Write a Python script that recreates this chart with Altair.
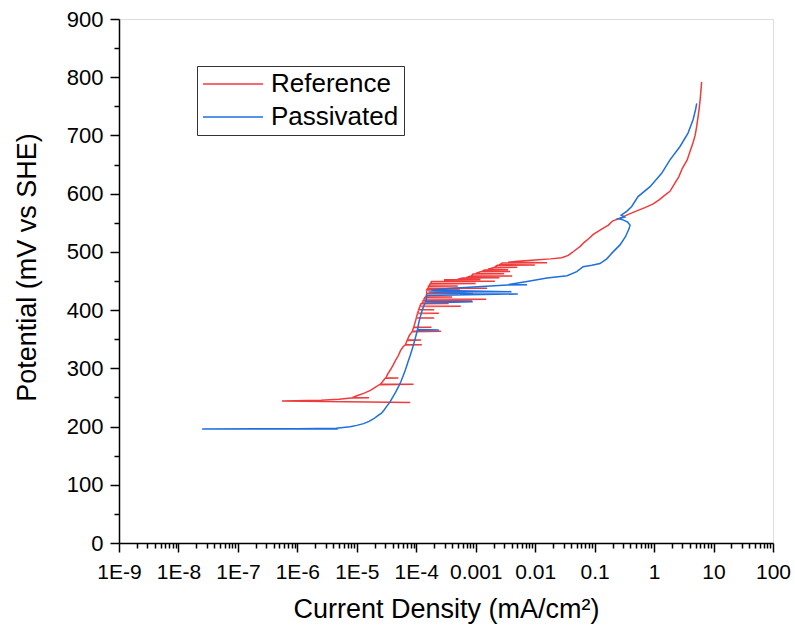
import altair as alt
import pandas as pd

# ---- data (current density in mA/cm^2, potential in mV vs SHE) ----
ref_current = [
    7.9e-5, 5.5e-7, 2.5e-6, 5.0e-6, 8.0e-6, 1.6e-5, 8.5e-6, 1.0e-5, 1.3e-5, 1.7e-5,
    2.0e-5, 2.4e-5, 9.0e-5, 2.5e-5, 2.7e-5, 3.0e-5, 5.0e-5, 3.1e-5, 3.3e-5, 3.7e-5,
    4.1e-5, 4.5e-5, 5.0e-5, 5.4e-5, 6.0e-5, 6.5e-5, 1.24e-4, 6.6e-5, 7.0e-5, 1.2e-4,
    7.1e-5, 7.6e-5, 8.5e-5, 2.6e-4, 8.6e-5, 9.0e-5, 1.8e-4, 9.1e-5, 9.5e-5, 1.0e-4,
    2.0e-4, 1.0e-4, 1.05e-4, 2.4e-4, 1.05e-4, 1.1e-4, 2.0e-4, 1.1e-4, 1.15e-4, 5.6e-4,
    1.15e-4, 1.2e-4, 3.5e-4, 1.25e-4, 1.3e-4, 8.7e-4, 1.3e-4, 1.35e-4, 1.5e-3, 1.35e-4,
    1.4e-4, 4.0e-4, 1.45e-4, 1.5e-4, 9.0e-4, 1.5e-4, 1.5e-4, 5.4e-4, 1.5e-4, 1.55e-4,
    1.55e-3, 1.6e-4, 1.6e-4, 5.0e-4, 1.65e-4, 1.7e-4, 1.0e-3, 1.75e-4, 1.8e-4, 2.1e-3,
    3.0e-4, 3.0e-4, 1.2e-3, 5.0e-4, 6.0e-4, 2.5e-3, 7.0e-4, 8.0e-4, 4.1e-3, 8.5e-4,
    9.0e-4, 3.0e-3, 1.0e-3, 1.2e-3, 3.8e-3, 1.3e-3, 1.4e-3, 3.5e-3, 1.6e-3, 2.0e-3,
    5.0e-3, 2.1e-3, 2.3e-3, 9.9e-3, 2.5e-3, 2.8e-3, 0.0158, 3.5e-3, 5.0e-3, 0.01,
    0.018, 0.028, 0.036, 0.042, 0.05, 0.058, 0.066, 0.08, 0.095, 0.125,
    0.17, 0.2, 0.27, 0.36, 0.5, 0.7, 0.95, 1.2, 1.5, 1.85,
    2.2, 2.6, 3.0, 3.6, 4.1, 4.5, 4.9, 5.2, 5.7, 6.0,
    6.3,
]
ref_potential = [
    241.5, 244, 245, 247, 249, 249.5, 250, 253, 257, 262,
    267, 272, 272.5, 273, 277, 283, 283.5, 284, 290, 298,
    306, 314, 322, 330, 337, 340, 340.5, 341, 348, 348.5,
    349, 356, 363, 363.5, 364, 370, 370.5, 371, 378, 386,
    386.5, 387, 394, 394.5, 395, 400, 400.5, 401, 406, 406.5,
    407, 411, 411.5, 412, 415, 415.5, 416, 418, 418.5, 419,
    422, 422.5, 423, 428, 428.5, 429, 434, 434.5, 435, 437,
    437.5, 438, 441, 441.5, 442, 445, 445.5, 446, 449, 449.5,
    450, 452, 452.5, 453, 455, 455.5, 456, 458, 458.5, 459,
    462, 462.5, 463, 466, 466.5, 467, 469, 469.5, 470, 473,
    473.5, 474, 477, 477.5, 478, 481, 481.5, 482, 484, 486,
    488, 490, 494, 499, 505, 510, 516, 523, 530, 538,
    546, 553, 558, 564, 570, 576, 582, 589, 597, 604,
    617, 629, 644, 658, 675, 687, 700, 715, 744, 765,
    792,
]

pas_current = [
    4.8e-6, 2.5e-8, 1.0e-6, 4.5e-6, 7.7e-6, 1.0e-5, 1.3e-5, 1.6e-5, 1.9e-5, 2.2e-5,
    2.6e-5, 2.9e-5, 3.2e-5, 3.6e-5, 4.0e-5, 4.5e-5, 5.0e-5, 5.5e-5, 6.0e-5, 6.6e-5,
    7.2e-5, 7.9e-5, 8.6e-5, 9.3e-5, 1.0e-4, 1.04e-4, 2.4e-4, 1.05e-4, 1.1e-4, 1.18e-4,
    1.26e-4, 1.35e-4, 1.4e-4, 8.9e-4, 1.45e-4, 1.5e-4, 5.1e-3, 8.0e-4, 1.6e-4, 4.0e-3,
    1.8e-4, 3.5e-4, 6.6e-4, 1.5e-3, 3.4e-3, 7.3e-3, 3.6e-3, 7.3e-3, 0.0158, 0.0344,
    0.05, 0.064, 0.09, 0.123, 0.16, 0.204, 0.267, 0.33, 0.38, 0.394,
    0.36, 0.3, 0.25, 0.32, 0.28, 0.35, 0.42, 0.537, 0.855, 1.34,
    1.85, 2.73, 3.72, 4.52, 5.0, 5.21,
]
pas_potential = [
    196, 195.8, 196.3, 197, 199.5, 202, 205, 209, 213, 218,
    223, 229, 235, 242, 250, 259, 268, 277, 287, 298,
    310, 322, 334, 346, 358, 365.5, 366, 366.5, 378, 390,
    400, 408, 412, 414.5, 415, 425, 427.7, 428, 431, 431.7,
    434, 437, 439, 441, 443, 443.5, 444, 449, 455, 459,
    466, 474.6, 477, 480, 488, 500, 512, 526, 540, 546,
    551, 555, 557, 560, 563, 570, 578, 595, 612, 635,
    658, 681, 704, 727, 745, 755,
]

series_names = ["Reference", "Passivated"]
series_colors = ["#EE3B3B", "#1F6FDE"]

x_major = [1e-9, 1e-8, 1e-7, 1e-6, 1e-5, 1e-4, 1e-3, 1e-2, 1e-1, 1, 10, 100]
x_ticks = []
for m in x_major[:-1]:
    for k in range(1, 10):
        x_ticks.append(m * k)
x_ticks.append(100)
y_ticks = list(range(0, 901, 50))

rows = []
for i, (c, p) in enumerate(zip(ref_current, ref_potential)):
    rows.append({"series": "Reference", "current": c, "potential": p, "idx": i})
for i, (c, p) in enumerate(zip(pas_current, pas_potential)):
    rows.append({"series": "Passivated", "current": c, "potential": p, "idx": i})
df = pd.DataFrame(rows)

FONT = "Liberation Sans"

is_decade = "abs(log(datum.value)/LN10 - round(log(datum.value)/LN10)) < 1e-6"
x_label_expr = (
    f"({is_decade}) ? (datum.value >= 0.0009 ? format(datum.value, '') : "
    "'1E-' + format(-round(log(datum.value)/LN10), 'd')) : ''"
)

x_axis = alt.Axis(
    values=x_ticks,
    labelExpr=x_label_expr,
    tickSize={"condition": {"test": is_decade, "value": 9}, "value": 5},
    labelPadding=9,
    labelFontSize=21,
    labelFont=FONT,
    labelColor="black",
    labelOverlap=False,
    labelFlush=False,
    title="Current Density (mA/cm²)",
    titleFont=FONT,
    titleFontSize=27,
    titleFontWeight="normal",
    titleColor="black",
    titleBaseline="alphabetic",
    titleY=74,
    grid=False,
    domainColor="black",
    domainWidth=1.5,
    tickColor="black",
    tickWidth=1.5,
)

y_axis = alt.Axis(
    values=y_ticks,
    labelExpr="datum.value % 100 == 0 ? datum.label : ''",
    tickSize={"condition": {"test": "datum.value % 100 == 0", "value": 9}, "value": 5},
    labelPadding=7,
    labelFontSize=22,
    labelFont=FONT,
    labelColor="black",
    labelOverlap=False,
    labelFlush=False,
    title="Potential (mV vs SHE)",
    titleFont=FONT,
    titleFontSize=27,
    titleFontWeight="normal",
    titleColor="black",
    titleBaseline="alphabetic",
    titleX=-84,
    titleY=248,
    grid=False,
    domainColor="black",
    domainWidth=1.5,
    tickColor="black",
    tickWidth=1.5,
)

chart = (
    alt.Chart(df)
    .mark_line(strokeWidth=1.5, clip=True)
    .encode(
        x=alt.X("current:Q", scale=alt.Scale(type="log", domain=[1e-9, 100], nice=False), axis=x_axis),
        y=alt.Y("potential:Q", scale=alt.Scale(domain=[0, 900], nice=False, zero=False), axis=y_axis),
        color=alt.Color(
            "series:N",
            scale=alt.Scale(domain=series_names, range=series_colors),
            legend=alt.Legend(
                orient="none",
                legendX=78,
                legendY=47,
                title=None,
                symbolType="M-1,0H4",
                symbolSize=576,
                symbolStrokeWidth=1.3,
                symbolFillColor="transparent",
                labelFontSize=26,
                labelFont=FONT,
                labelColor="black",
                labelOffset=43,
                rowPadding=7,
                padding=5,
                strokeColor="#333333",
                fillColor="white",
            ),
        ),
        order=alt.Order("idx:Q"),
        detail="series:N",
    )
    .properties(
        width=654,
        height=524,
        autosize=alt.AutoSizeParams(type="none"),
        padding={"left": 119, "top": 19, "right": 22, "bottom": 88},
    )
    .configure_view(stroke=None)
    .configure(background="white")
)

chart.save("out.html", embed_options={"renderer": "svg", "actions": False})
